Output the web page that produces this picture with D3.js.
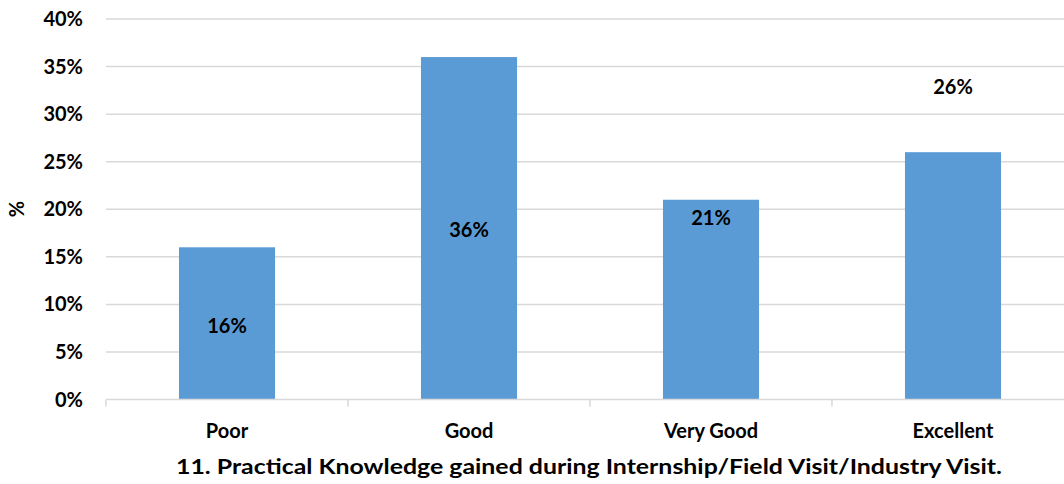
<!DOCTYPE html>
<html><head><meta charset="utf-8">
<script src="https://cdn.jsdelivr.net/npm/d3@7"></script>
<style>body{margin:0;background:#fff}svg{display:block}text{font-family:Lato,"Open Sans",sans-serif;font-weight:bold;fill:#000}</style>
</head><body><svg id="c" width="1064" height="484"></svg>
<script>
const categories = ["Poor", "Good", "Very Good", "Excellent"];
const values = [16, 36, 21, 26];
const labelPos = [7.7, 17.8, 19.1, 32.9];
const yTicks = [0, 5, 10, 15, 20, 25, 30, 35, 40];
const titleText = "11. Practical Knowledge gained during Internship/Field Visit/Industry Visit.";
const yTitle = "%";

const svg = d3.select("#c");
const x = d3.scaleBand().domain(categories).range([106, 1074]).paddingInner(0.603).paddingOuter(0.3015);
const y = d3.scaleLinear().domain([0, 40]).range([399.5, 19]);

svg.append("g").selectAll("line").data(yTicks.filter(d => d > 0)).join("line")
  .attr("x1", 106).attr("x2", 1064).attr("y1", d => y(d)).attr("y2", d => y(d))
  .attr("stroke", "#d9d9d9").attr("stroke-width", 1.5);

svg.append("g").selectAll("rect").data(values).join("rect")
  .attr("x", (d, i) => x(categories[i])).attr("width", x.bandwidth())
  .attr("y", d => y(d)).attr("height", d => y(0) - y(d)).attr("fill", "#5b9bd5");

// x axis
const step = x.step();
svg.append("line").attr("x1", 106).attr("x2", 1064).attr("y1", y(0)).attr("y2", y(0)).attr("stroke", "#d9d9d9").attr("stroke-width", 1.5);
svg.append("g").selectAll("line").data(categories).join("line")
  .attr("x1", d => x(d) - x.bandwidth() * 0.76).attr("x2", d => x(d) - x.bandwidth() * 0.76)
  .attr("y1", y(0)).attr("y2", y(0) + 7).attr("stroke", "#d9d9d9").attr("stroke-width", 1.5);

svg.append("g").selectAll("text").data(yTicks).join("text")
  .attr("x", 83).attr("y", d => y(d)).attr("dy", "0.35em").attr("text-anchor", "end")
  .attr("font-size", 20).text(d => d + "%");

svg.append("g").selectAll("text").data(categories).join("text")
  .attr("x", d => x(d) + x.bandwidth() / 2).attr("y", 438).attr("text-anchor", "middle")
  .attr("font-size", 20).text(d => d);

svg.append("g").selectAll("text").data(values).join("text")
  .attr("x", (d, i) => x(categories[i]) + x.bandwidth() / 2).attr("y", (d, i) => y(labelPos[i])).attr("dy", "0.35em")
  .attr("text-anchor", "middle").attr("font-size", 20).text(d => d + "%");

svg.append("text").attr("x", 589).attr("y", 474).attr("text-anchor", "middle")
  .attr("font-size", 21).attr("textLength", 826).attr("lengthAdjust", "spacingAndGlyphs").text(titleText);

svg.append("text").attr("transform", "translate(24,209) rotate(-90)").attr("text-anchor", "middle")
  .attr("font-size", 20).text(yTitle);
</script></body></html>
